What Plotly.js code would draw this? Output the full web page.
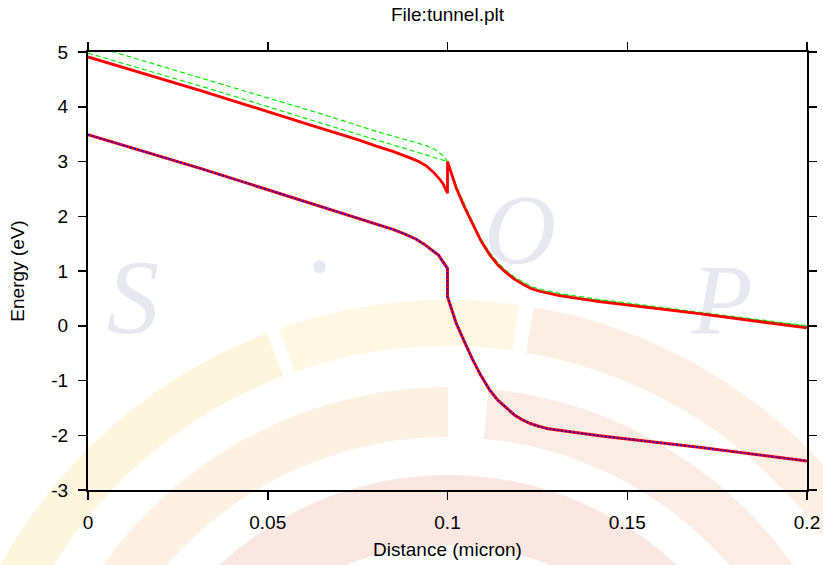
<!DOCTYPE html>
<html>
<head>
<meta charset="utf-8">
<script src="https://cdn.plot.ly/plotly-3.0.1.min.js"></script>
<style>
  html, body { margin: 0; padding: 0; background: #ffffff; }
  #wrap { position: relative; width: 823px; height: 565px; overflow: hidden; }
  #wm { position: absolute; left: 0; top: 0; z-index: 0; }
  #chart { position: absolute; left: 0; top: 0; width: 823px; height: 565px; z-index: 1; }
</style>
</head>
<body>
<div id="wrap">
  <svg id="wm" width="823" height="565" xmlns="http://www.w3.org/2000/svg"></svg>
  <div id="chart"></div>
</div>
<script>
// ---- data ----
const xConduction = [0, 0.0311, 0.0617, 0.075, 0.0802, 0.085, 0.0894, 0.092, 0.0941, 0.096, 0.0978, 0.0987, 0.0993, 0.0998, 0.1, 0.1,
  0.1008, 0.1015, 0.1024, 0.1047, 0.107, 0.1093, 0.1117, 0.114, 0.1163, 0.1186, 0.1209, 0.1232, 0.1256, 0.128, 0.1311, 0.1422, 0.17, 0.2];
const yConduction = [4.91, 4.30, 3.67, 3.40, 3.28, 3.18, 3.07, 3.00, 2.92, 2.81, 2.68, 2.60, 2.52, 2.46, 2.42, 3.0,
  2.83, 2.69, 2.52, 2.17, 1.85, 1.55, 1.30, 1.11, 0.97, 0.85, 0.76, 0.68, 0.63, 0.59, 0.55, 0.44, 0.22, -0.04];

const xValence = [0, 0.0319, 0.0478, 0.0663, 0.075, 0.0815, 0.0848, 0.088, 0.0913, 0.0935, 0.0959, 0.0975, 0.0987, 0.0993, 0.0997, 0.1, 0.1,
  0.1008, 0.1015, 0.1024, 0.1047, 0.107, 0.1093, 0.1117, 0.114, 0.1163, 0.1186, 0.1209, 0.1232, 0.1256, 0.128, 0.1311, 0.1422, 0.17, 0.2];
const yValence = [3.49, 2.86, 2.53, 2.15, 1.97, 1.84, 1.76, 1.68, 1.58, 1.49, 1.38, 1.29, 1.17, 1.12, 1.08, 1.05, 0.53,
  0.36, 0.22, 0.05, -0.29, -0.62, -0.91, -1.17, -1.36, -1.50, -1.63, -1.72, -1.79, -1.84, -1.88, -1.91, -2.01, -2.22, -2.47];

const xGreen1 = [0, 0.0333, 0.0644, 0.0802, 0.0941, 0.0965, 0.0985, 0.0996, 0.1,
  0.1024, 0.1047, 0.107, 0.1093, 0.1117, 0.114, 0.1163, 0.1186, 0.1209, 0.1232, 0.1256, 0.128, 0.1311, 0.1422, 0.17, 0.2];
const yGreen1 = [5.14, 4.49, 3.88, 3.55, 3.29, 3.22, 3.12, 3.04, 3.0,
  2.56, 2.21, 1.89, 1.59, 1.34, 1.15, 1.01, 0.89, 0.80, 0.72, 0.67, 0.63, 0.59, 0.48, 0.25, 0.0];

const xGreen2 = [0, 0.0333, 0.0644, 0.0802, 0.0941, 0.097, 0.0996, 0.1,
  0.1024, 0.1047, 0.107, 0.1093, 0.1117, 0.114, 0.1163, 0.1186, 0.1209, 0.1232, 0.1256, 0.128, 0.1311, 0.1422, 0.17, 0.2];
const yGreen2 = [4.98, 4.34, 3.71, 3.39, 3.11, 3.05, 3.01, 3.0,
  2.54, 2.19, 1.87, 1.57, 1.32, 1.13, 0.99, 0.87, 0.78, 0.70, 0.65, 0.61, 0.57, 0.46, 0.24, -0.01];

const xTickVals = [0, 0.05, 0.1, 0.15, 0.2];
const xTickText = ['0', '0.05', '0.1', '0.15', '0.2'];
const yTickVals = [-3, -2, -1, 0, 1, 2, 3, 4, 5];
const yTickText = ['-3', '-2', '-1', '0', '1', '2', '3', '4', '5'];

// ---- faint background watermark (decoration only) ----
(function () {
  const svg = document.getElementById('wm');
  const NS = 'http://www.w3.org/2000/svg';
  const cx = 448, cy = 810;
  function arc(r, a1, a2, w, col) {
    const t1 = a1 * Math.PI / 180, t2 = a2 * Math.PI / 180;
    const x1 = cx + r * Math.cos(t1), y1 = cy - r * Math.sin(t1);
    const x2 = cx + r * Math.cos(t2), y2 = cy - r * Math.sin(t2);
    const p = document.createElementNS(NS, 'path');
    p.setAttribute('d', `M${x1},${y1} A${r},${r} 0 0 0 ${x2},${y2}`);
    p.setAttribute('fill', 'none');
    p.setAttribute('stroke', col);
    p.setAttribute('stroke-width', w);
    svg.appendChild(p);
  }
  arc(487, 20, 80.3, 46, '#fdefe3');
  arc(487, 82, 109.3, 46, '#fef7e4');
  arc(487, 110.8, 165, 46, '#fdf5de');
  arc(398, 25, 84.5, 50, '#fcece6');
  arc(398, 90, 160, 50, '#fdf1e3');
  arc(300, 0, 180, 70, '#fbe7e2');
  function letter(t, x, y, size) {
    const e = document.createElementNS(NS, 'text');
    e.setAttribute('x', x); e.setAttribute('y', y);
    e.setAttribute('font-family', 'Liberation Serif, DejaVu Serif, serif');
    e.setAttribute('font-style', 'italic');
    e.setAttribute('font-size', size);
    e.setAttribute('fill', '#e8e8f0');
    e.setAttribute('text-anchor', 'middle');
    e.textContent = t;
    svg.appendChild(e);
  }
  letter('S', 133, 333, 105);
  letter('.', 322, 272, 105);
  letter('O', 520, 263, 100);
  letter('P', 722, 333, 100);
})();

// ---- chart ----
const FONT = 'Liberation Sans, Arial, sans-serif';
const traces = [
  { x: xGreen1, y: yGreen1, mode: 'lines', line: { color: '#00ee00', width: 1.2, dash: '5px,3px' }, hoverinfo: 'skip' },
  { x: xGreen2, y: yGreen2, mode: 'lines', line: { color: '#00ee00', width: 1.2, dash: '5px,3px' }, hoverinfo: 'skip' },
  { x: xConduction, y: yConduction, mode: 'lines', line: { color: '#ff0000', width: 2.8 } },
  { x: xValence, y: yValence, mode: 'lines', line: { color: '#ff0000', width: 3 } },
  { x: xValence, y: yValence, mode: 'lines', line: { color: '#0000ff', width: 1.6, dash: '2px,2px' } }
];

const axisCommon = {
  showline: true, linecolor: '#000000', linewidth: 2,
  mirror: 'ticks', ticks: 'outside', ticklen: 8, tickwidth: 1.5, tickcolor: '#000000',
  showgrid: false, zeroline: false, ticklabelstandoff: 6,
  tickfont: { family: FONT, size: 19, color: '#000000' }
};

const layout = {
  width: 823, height: 565,
  margin: { l: 88, r: 16, t: 52, b: 75 },
  paper_bgcolor: 'rgba(0,0,0,0)', plot_bgcolor: 'rgba(0,0,0,0)',
  showlegend: false,
  title: { text: 'File:tunnel.plt', x: 0.5, xref: 'paper', y: 0.975, yref: 'container', yanchor: 'middle',
           font: { family: FONT, size: 19, color: '#000000' } },
  xaxis: Object.assign({}, axisCommon, {
    range: [0, 0.2], tickvals: xTickVals, ticktext: xTickText,
    title: { text: 'Distance (micron)', standoff: 11, font: { family: FONT, size: 19, color: '#000000' } }
  }),
  yaxis: Object.assign({}, axisCommon, {
    range: [-3, 5], tickvals: yTickVals, ticktext: yTickText,
    title: { text: 'Energy (eV)', standoff: 22, font: { family: FONT, size: 19, color: '#000000' } }
  })
};

Plotly.newPlot('chart', traces, layout, { staticPlot: true, displayModeBar: false });
</script>
</body>
</html>
